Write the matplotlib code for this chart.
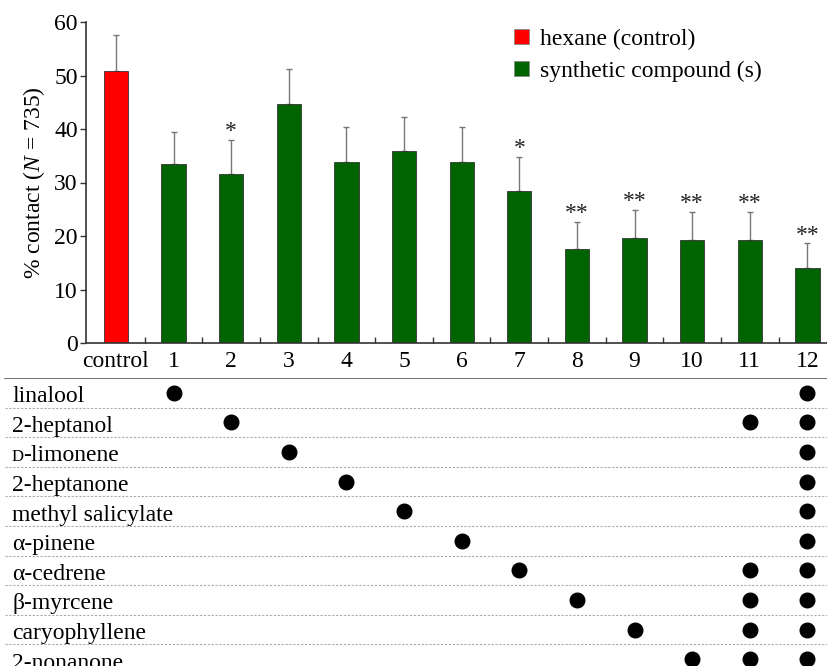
import matplotlib
matplotlib.use("Agg")
import matplotlib.pyplot as plt
from matplotlib.patches import Patch

plt.rcParams['font.family'] = ['Liberation Serif', 'DejaVu Serif']
plt.rcParams['mathtext.fontset'] = 'custom'
plt.rcParams['mathtext.rm'] = 'Liberation Serif'
plt.rcParams['mathtext.it'] = 'Liberation Serif:italic'

categories = ['control', '1', '2', '3', '4', '5', '6', '7', '8', '9', '10', '11', '12']
means = [50.8, 33.5, 31.6, 44.7, 33.9, 35.8, 33.9, 28.5, 17.6, 19.7, 19.3, 19.3, 14.1]
errors = [6.8, 6.0, 6.3, 6.6, 6.5, 6.4, 6.5, 6.3, 5.0, 5.2, 5.2, 5.2, 4.5]
significance = ['', '', '*', '', '', '', '', '*', '**', '**', '**', '**', '**']

compounds = ['linalool', '2-heptanol', 'D-limonene', '2-heptanone', 'methyl salicylate',
             'α-pinene', 'α-cedrene', 'β-myrcene', 'caryophyllene', '2-nonanone']
# treatment (bar index) -> list of compound row indices contained
membership = {
    1: [0], 2: [1], 3: [2], 4: [3], 5: [4], 6: [5], 7: [6], 8: [7], 9: [8], 10: [9],
    11: [1, 6, 7, 8, 9],
    12: [0, 1, 2, 3, 4, 5, 6, 7, 8, 9],
}

W, H = 827, 666
fig = plt.figure(figsize=(W / 100, H / 100), dpi=100)

# top bar axes
ax = fig.add_axes([86 / W, (H - 343) / H, (W - 86) / W, 321 / H])
x = list(range(len(categories)))
colors = ['#ff0000'] + ['#006400'] * (len(categories) - 1)
ax.bar(x, means, width=0.42, color=colors, edgecolor='#333333', linewidth=0.6, zorder=2)
ax.errorbar(x, means, yerr=[[0] * len(errors), errors], fmt='none', ecolor='#777777',
            elinewidth=1.0, capsize=2.5, capthick=1.0, zorder=1)
for xi, m, e, s in zip(x, means, errors, significance):
    if s:
        ax.text(xi, m + e - 0.4, s, ha='center', va='bottom', fontsize=17, color='#222222')

ax.set_xlim(-0.52, 12.34)
ax.set_ylim(0, 60)
ax.set_yticks([0, 10, 20, 30, 40, 50, 60])
ax.set_xticks(x)
ax.set_xticklabels(categories)
ax.set_xticks([i + 0.5 for i in range(12)], minor=True)
ax.tick_params(axis='x', which='major', length=0, pad=6, labelsize=17)
ax.tick_params(axis='x', which='minor', direction='in', length=4, width=1, color='#333333')
ax.tick_params(axis='y', direction='out', length=4, width=1, labelsize=17, pad=2, color='#333333')
for sp in ['top', 'right']:
    ax.spines[sp].set_visible(False)
for sp in ['left', 'bottom']:
    ax.spines[sp].set_linewidth(1.2)
    ax.spines[sp].set_color('#333333')
ax.set_ylabel('% contact ($\\mathit{N}$ = 735)', fontsize=17, labelpad=4)
ax.yaxis.set_label_coords(-0.053, 0.5)

handles = [Patch(facecolor='#ff0000', edgecolor='#888888', linewidth=0.6),
           Patch(facecolor='#006400', edgecolor='#888888', linewidth=0.6)]
ax.legend(handles, ['hexane (control)', 'synthetic compound (s)'], loc='upper left',
          bbox_to_anchor=((505 - 86) / (W - 86), 1.008), frameon=False, fontsize=17,
          handlelength=0.6, handleheight=0.6, handletextpad=0.5, labelspacing=0.45,
          borderaxespad=0)

# bottom table axes
bax = fig.add_axes([0, 0, 1, (H - 378) / H])
left_data = -0.52 - 86 / 57.6
bax.set_xlim(left_data, 12.34)
row_h = 29.6
bax.set_ylim((H - 378) / row_h, 0)
bax.axis('off')
bax.axhline(0, color='#777777', linewidth=1.5, xmin=5 / W, xmax=1)
for i in range(1, len(compounds)):
    bax.axhline(i, color='#aaaaaa', linewidth=0.8, linestyle=(0, (2, 1.5)), xmin=5 / W, xmax=1)
for i, name in enumerate(compounds):
    yb = i + 0.82
    if name == 'D-limonene':
        bax.text(left_data + 12 / 57.6, yb, 'D', fontsize=12, va='baseline', ha='left')
        bax.text(left_data + 23.5 / 57.6, yb, '-limonene', fontsize=17, va='baseline', ha='left')
    else:
        bax.text(left_data + 12 / 57.6, yb, name, fontsize=17, va='baseline', ha='left')
for t, rows in membership.items():
    bax.plot([t] * len(rows), [r + 0.5 for r in rows], 'o', color='black',
             markersize=10.5, clip_on=True)

fig.savefig('out.png', dpi=100)
